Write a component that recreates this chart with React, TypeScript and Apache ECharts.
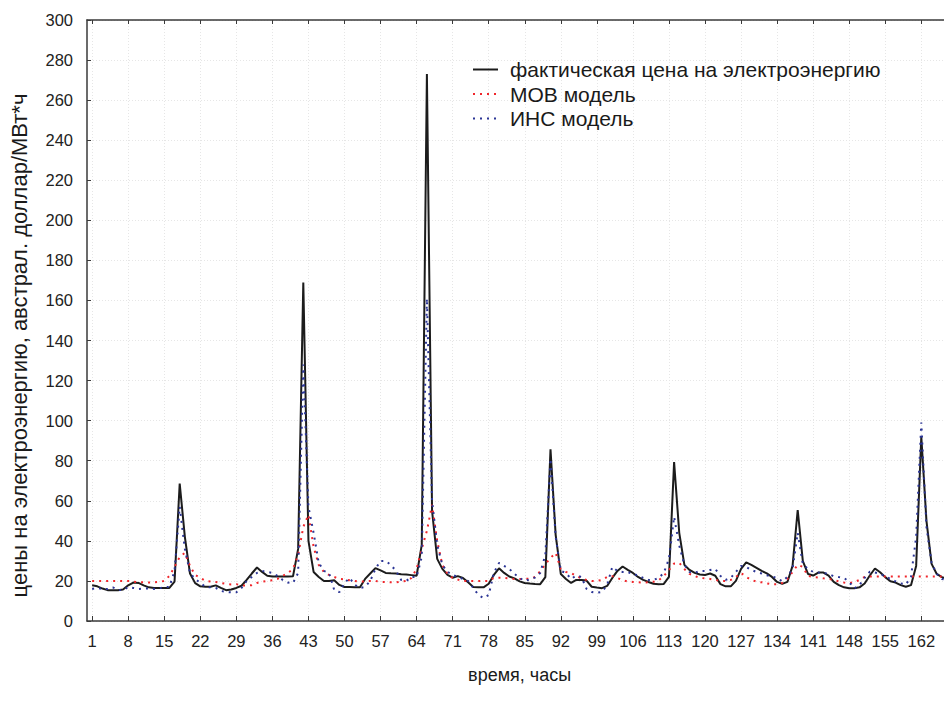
import React, { useEffect, useRef } from "react";
import * as echarts from "echarts";

// hours 1..168
const actualPrice: number[] = [
  17.8, 17.3, 16.2, 15.4, 15.4, 15.4, 15.7, 17.8, 19.2, 19.0,
  17.8, 16.8, 16.5, 16.5, 16.5, 16.5, 19.7, 68.6, 42.0, 23.7,
  18.9, 17.3, 17.1, 17.1, 17.8, 16.5, 15.4, 15.7, 16.5, 17.6,
  20.5, 23.7, 26.7, 24.5, 22.6, 22.2, 22.2, 22.2, 22.2, 22.3,
  36.0, 169.0, 40.0, 24.5, 22.0, 20.0, 20.0, 20.3, 18.0, 17.0,
  17.0, 16.8, 16.8, 21.0, 23.7, 26.4, 25.3, 24.0, 23.8, 23.7,
  23.3, 23.2, 22.9, 22.6, 38.0, 273.0, 55.0, 31.0, 26.0, 23.0,
  21.6, 22.4, 21.5, 19.3, 17.0, 16.8, 16.8, 18.6, 23.0, 26.3,
  24.0, 22.2, 21.3, 19.8, 19.0, 18.7, 18.5, 18.4, 21.9, 85.7,
  43.0, 23.5, 21.0, 19.0, 20.5, 20.5, 20.2, 17.1, 16.7, 16.4,
  17.5, 21.5, 25.0, 27.2, 25.5, 24.0, 22.0, 20.5, 19.5, 18.6,
  18.4, 18.5, 22.0, 79.3, 44.0, 28.0, 25.5, 24.0, 23.2, 23.0,
  23.7, 22.6, 18.4, 17.3, 17.3, 20.0, 26.0, 29.3, 28.0, 26.5,
  25.0, 23.8, 22.0, 19.5, 18.5, 19.5, 27.5, 55.4, 29.9, 23.5,
  22.7, 24.2, 24.2, 22.7, 19.5, 17.9, 16.8, 16.3, 16.3, 16.8,
  18.7, 22.7, 26.2, 24.3, 21.9, 19.8, 19.2, 17.9, 17.1, 17.9,
  27.5, 92.0, 50.0, 28.5, 23.5, 21.9, 21.0, 20.5,
];

const movModel: number[] = [
  20.0, 20.0, 20.0, 20.0, 20.0, 20.0, 20.0, 20.0, 19.6, 19.4,
  19.3, 19.2, 19.3, 19.5, 20.0, 22.5, 27.0, 32.0, 34.0, 27.5,
  23.0, 21.5, 20.0, 19.7, 19.5, 19.0, 18.5, 18.2, 18.4, 17.7,
  17.7, 17.9, 19.0, 19.6, 20.0, 20.3, 21.0, 22.5, 24.0, 26.0,
  33.0, 47.0, 53.0, 37.0, 28.0, 24.5, 23.0, 22.0, 21.0, 20.8,
  20.3, 20.0, 19.7, 19.7, 20.0, 20.0, 19.5, 19.5, 19.3, 19.3,
  19.7, 20.0, 21.5, 26.0, 36.0, 45.0, 58.0, 40.0, 28.0, 23.5,
  21.5, 20.7, 20.0, 20.0, 20.0, 20.0, 20.0, 20.0, 21.5, 21.6,
  21.5, 21.2, 21.0, 21.0, 21.0, 21.1, 22.0, 24.8, 28.3, 31.5,
  34.0, 26.0, 24.5, 24.0, 22.5, 21.3, 20.5, 20.0, 20.0, 20.5,
  22.0, 22.4, 21.5, 20.3, 19.8, 19.5, 19.3, 19.2, 19.3, 19.6,
  20.3, 22.4, 25.5, 28.7, 29.0, 26.0, 23.5, 22.5, 21.5, 21.3,
  21.0, 20.5, 20.0, 20.0, 20.5, 22.0, 24.0, 22.0, 20.5, 19.7,
  19.3, 18.8, 18.3, 18.3, 19.0, 21.0, 24.5, 28.0, 27.0, 22.5,
  21.9, 21.7, 21.3, 21.0, 20.5, 19.8, 19.2, 18.8, 19.5, 20.5,
  22.0, 22.2, 22.2, 22.2, 22.2, 22.2, 22.2, 22.2, 22.2, 22.2,
  22.2, 22.2, 22.2, 22.2, 22.2, 22.2, 22.2, 22.2,
];

const insModel: number[] = [
  16.0, 16.5, 16.0, 16.0, 16.8, 15.5, 15.4, 17.0, 16.5, 16.0,
  16.2, 16.2, 16.0, 16.3, 17.0, 17.0, 25.0, 57.0, 36.0, 24.0,
  21.0, 19.0, 17.0, 16.8, 16.5, 15.0, 14.5, 14.3, 14.3, 16.5,
  20.0, 22.0, 24.0, 25.0, 24.5, 24.0, 22.5, 20.5, 19.2, 19.0,
  24.0, 128.0, 57.0, 44.0, 29.0, 25.0, 24.0, 15.5, 14.4, 19.0,
  21.5, 18.0, 16.5, 17.0, 20.0, 26.0, 30.0, 30.0, 28.0, 25.0,
  20.5, 20.0, 22.0, 22.0, 32.0, 161.0, 60.0, 38.0, 28.0, 24.5,
  23.0, 22.0, 21.0, 20.0, 16.5, 13.0, 11.5, 13.0, 24.0, 29.0,
  27.5, 26.0, 23.5, 21.5, 20.0, 20.8, 21.7, 24.0, 33.0, 81.0,
  42.0, 25.0, 24.0, 21.0, 22.7, 22.0, 16.0, 14.5, 14.1, 14.5,
  18.0, 27.0, 25.0, 24.5, 24.5, 23.3, 22.9, 21.5, 20.5, 20.5,
  21.5, 24.0, 31.0, 52.0, 37.7, 28.0, 24.5, 24.0, 25.0, 25.0,
  25.5, 26.0, 22.5, 20.5, 21.5, 24.5, 27.5, 27.0, 25.5, 24.5,
  23.7, 22.8, 22.2, 21.5, 19.8, 22.0, 26.0, 44.0, 28.4, 26.0,
  24.5, 24.2, 24.0, 23.5, 22.3, 21.9, 21.5, 19.5, 16.3, 18.0,
  21.5, 24.6, 24.2, 23.5, 22.3, 21.0, 19.8, 18.8, 18.2, 22.0,
  42.0, 99.0, 47.0, 29.0, 23.5, 21.0, 20.5, 20.5,
];

const xTickValues: number[] = [1, 8, 15, 22, 29, 36, 43, 50, 57, 64, 71, 78, 85, 92, 99, 106, 113, 120, 127, 134, 141, 148, 155, 162];

const seriesNames = [
  "фактическая цена на электроэнергию",
  "МОВ модель",
  "ИНС модель",
];

const xAxisTitle = "время, часы";
const yAxisTitle = "цены на электроэнергию, австрал. доллар/МВт*ч";

const FONT = "'Liberation Sans', Arial, sans-serif";

export default function App() {
  const ref = useRef<HTMLDivElement>(null);

  useEffect(() => {
    if (!ref.current) return;
    const chart = echarts.init(ref.current, undefined, { renderer: "svg" });
    const toPairs = (arr: number[]) => arr.map((v, i) => [i + 1, v]);

    const gridLine = { show: true, lineStyle: { color: "#e6e6e6", type: [1, 2] as any, width: 1 } };
    const axisLine = { show: true, lineStyle: { color: "#3a3a3a", width: 1.5 } };

    chart.setOption({
      animation: false,
      backgroundColor: "#ffffff",
      textStyle: { fontFamily: FONT },
      grid: { left: 78.5, top: 20, width: 873.7, height: 601, containLabel: false },
      legend: {
        orient: "vertical",
        left: 472,
        top: 59,
        padding: 0,
        itemWidth: 25,
        itemHeight: 10,
        itemGap: 3.5,
        itemStyle: { opacity: 0 },
        textStyle: { fontSize: 21, color: "#1a1a1a", fontFamily: FONT, padding: [0, 0, 0, 7] },
        data: seriesNames,
      },
      xAxis: [
        {
          type: "value",
          min: 0,
          max: 168,
          position: "bottom",
          name: xAxisTitle,
          nameLocation: "middle",
          nameGap: 45,
          nameTextStyle: { fontSize: 18, color: "#1a1a1a", fontFamily: FONT },
          axisLine,
          axisTick: { show: true, inside: true, length: 5, customValues: xTickValues, lineStyle: { color: "#3a3a3a" } },
          axisLabel: { show: true, customValues: xTickValues, fontSize: 16.5, color: "#222", margin: 11, fontFamily: FONT },
          splitLine: gridLine,
        },
        {
          type: "value",
          min: 0,
          max: 168,
          position: "top",
          axisLine,
          axisTick: { show: true, inside: true, length: 4, customValues: xTickValues, lineStyle: { color: "#3a3a3a" } },
          axisLabel: { show: false, customValues: xTickValues },
          splitLine: { show: false },
        },
      ],
      yAxis: {
        type: "value",
        min: 0,
        max: 300,
        interval: 20,
        name: yAxisTitle,
        nameLocation: "middle",
        nameGap: 57,
        nameTextStyle: { fontSize: 22, color: "#1a1a1a", fontFamily: FONT, padding: [0, 50, 0, 0] },
        axisLine,
        axisTick: { show: true, inside: true, length: 4, lineStyle: { color: "#3a3a3a" } },
        axisLabel: { fontSize: 16.5, color: "#222", margin: 14, fontFamily: FONT },
        splitLine: gridLine,
      },
      series: [
        {
          name: seriesNames[0],
          type: "line",
          data: toPairs(actualPrice),
          symbol: "none",
          showSymbol: false,
          lineStyle: { color: "#1c1c1c", width: 2 },
          itemStyle: { color: "#1c1c1c" },
          z: 3,
        },
        {
          name: seriesNames[1],
          type: "line",
          data: toPairs(movModel),
          symbol: "none",
          showSymbol: false,
          lineStyle: { color: "#f0262b", width: 2, type: [2, 5] },
          itemStyle: { color: "#f0262b" },
          z: 4,
        },
        {
          name: seriesNames[2],
          type: "line",
          data: toPairs(insModel),
          symbol: "none",
          showSymbol: false,
          lineStyle: { color: "#2b3595", width: 2, type: [2, 5] },
          itemStyle: { color: "#2b3595" },
          z: 5,
        },
      ],
    });
    return () => chart.dispose();
  }, []);

  return (
    <div style={{ position: "fixed", left: 0, top: 0, width: 944, height: 709, overflow: "hidden", background: "#fff" }}>
      <div ref={ref} style={{ width: 960, height: 709 }} />
    </div>
  );
}
